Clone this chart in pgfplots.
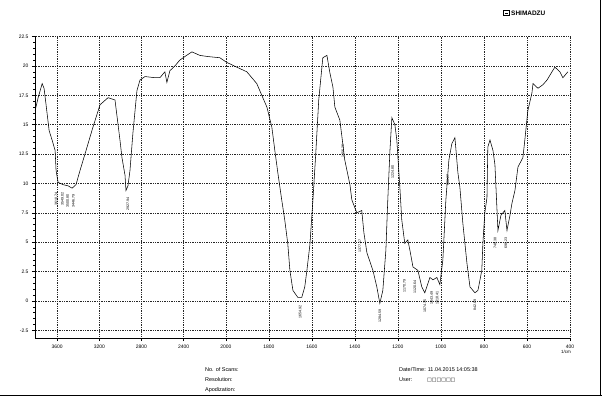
\documentclass[border=0pt]{standalone}
\usepackage{pgfplots}
\pgfplotsset{compat=1.18}
\usepackage{fontspec}
\setmainfont{Liberation Sans}
\newfontfamily\dejavu{DejaVu Sans}
\pgfplotstableread{
wn T
3809 16.2
3780 17.3
3742 18.5
3724 18.1
3705 16.7
3676 14.5
3648 13.7
3619 12.8
3610 11.1
3591 10.1
3544 9.9
3496 9.8
3458 9.6
3421 9.9
3383 11.1
3326 12.8
3260 14.8
3193 16.7
3117 17.3
3051 17.1
3004 13.7
2985 12.2
2956 10.7
2947 9.4
2928 9.8
2909 11.1
2881 14.3
2843 17.9
2814 18.8
2767 19.1
2672 19.0
2625 19.0
2578 19.5
2559 18.6
2530 19.6
2483 20.0
2436 20.5
2388 20.8
2322 21.2
2246 20.9
2170 20.8
2057 20.7
1995 20.3
1949 19.9
1902 19.5
1856 18.5
1809 16.5
1786 14.8
1772 12.8
1758 10.9
1740 8.6
1726 6.9
1712 4.9
1702 2.6
1688 0.9
1665 0.3
1647 0.3
1633 1.2
1623 2.6
1609 4.8
1595 8.6
1581 12.8
1568 17.1
1549 20.7
1530 20.9
1516 19.4
1502 18.2
1493 16.5
1470 15.4
1461 14.1
1447 12.0
1423 9.9
1414 8.6
1391 7.5
1368 7.7
1358 5.8
1344 4.1
1316 2.6
1298 1.2
1284 -0.2
1270 0.9
1256 4.3
1247 8.6
1237 12.8
1228 15.6
1214 15.0
1205 13.7
1191 9.7
1182 6.9
1168 4.9
1154 5.2
1144 4.3
1130 2.9
1107 2.6
1089 1.2
1075 0.7
1051 2.0
1037 1.8
1019 2.0
1005 1.4
991 3.5
977 8.6
963 12.0
949 13.4
935 13.9
921 10.9
912 9.7
898 6.6
879 3.2
865 1.2
842 0.7
828 0.9
810 2.6
805 4.9
796 7.5
786 8.8
782 13.1
772 13.7
758 12.8
749 11.6
740 8.0
735 6.0
721 7.3
703 7.7
693 6.0
679 7.3
670 8.3
656 9.4
642 11.4
619 12.2
610 13.7
596 16.2
577 17.7
572 18.5
549 18.1
526 18.4
507 18.8
484 19.5
470 19.9
447 19.5
433 19.0
410 19.5
}\spectrum
\begin{document}
\begin{tikzpicture}[x=1bp,y=1bp]
\path[use as bounding box] (0,0) rectangle (602,396);
\begin{axis}[
  at={(35bp,58bp)}, anchor=south west,
  width=535bp, height=302bp, scale only axis,
  x coord trafo/.code={\pgfmathparse{#1>2000 ? 2000+(#1-2000)*0.49 : #1}},
  x dir=reverse,
  xmin=400, xmax=3810, ymin=-3.15, ymax=22.55,
  axis x line*=bottom, axis y line*=left,
  axis line style={line width=0.6bp},
  xtick={3600,3200,2800,2400,2000,1800,1600,1400,1200,1000,800,600,400},
  xticklabels={3600,3200,2800,2400,2000,1800,1600,1400,1200,1000,800,600,400},
  ytick={-2.5,0,2.5,5,7.5,10,12.5,15,17.5,20,22.5},
  yticklabels={-2.5,0,2.5,5,7.5,10,12.5,15,17.5,20,22.5},
  minor y tick num=4,
  tick align=outside,
  major tick length=3bp, minor tick length=1.8bp,
  tick style={black, line width=0.5bp},
  tick label style={font=\fontsize{5}{6}\selectfont},
  /pgf/number format/assume math mode=true,
  grid=major,
  major grid style={black!85, line width=0.45bp, dash pattern=on 0.45bp off 1.3bp},
  clip=false,
]
\addplot[black, line width=0.55bp] table[x=wn, y=T] {\spectrum};
\tikzset{pk/.style={rotate=90, anchor=east, inner sep=0.5bp, font=\fontsize{3.6}{4}\selectfont}}
\node[pk] at (axis cs:3610,9.3) {3610.74};
\node[pk] at (axis cs:3549,9.3) {3549.02};
\node[pk] at (axis cs:3500,9.1) {3500.80};
\node[pk] at (axis cs:3446,9.1) {3446.79};
\node[pk] at (axis cs:2928,8.9) {2927.94};
\node[pk] at (axis cs:1654,-0.3) {1654.92};
\node[pk] at (axis cs:1456,13.4) {1456.26};
\node[pk] at (axis cs:1377,5.3) {1377.17};
\node[pk] at (axis cs:1284,-0.7) {1284.59};
\node[pk] at (axis cs:1224,11.6) {1224.80};
\node[pk] at (axis cs:1170,1.9) {1170.79};
\node[pk] at (axis cs:1121,1.8) {1120.64};
\node[pk] at (axis cs:1074,0.2) {1074.35};
\node[pk] at (axis cs:1043,0.9) {1043.49};
\node[pk] at (axis cs:1018,0.9) {1018.41};
\node[pk] at (axis cs:968,10.8) {968.27};
\node[pk] at (axis cs:842,0.2) {842.89};
\node[pk] at (axis cs:748,5.5) {748.38};
\node[pk] at (axis cs:698,5.5) {698.23};
\end{axis}
\node[anchor=north, font=\fontsize{4.5}{5}\selectfont, inner sep=0pt] at (566,46) {1/cm};
\node[anchor=west, font=\bfseries\fontsize{6.5}{7}\selectfont, inner sep=0pt] at (511,383) {SHIMADZU};
\draw[line width=0.6bp] (503.5,380.5) rectangle (509.5,386);
\draw[line width=0.5bp] (505,383.2) -- (508,383.2);
\draw[line width=0.7bp] (600.5,0) -- (600.5,396);
\draw[line width=0.7bp] (0,0.5) -- (602,0.5);
\begin{scope}[every node/.style={anchor=west, inner sep=0pt, font=\fontsize{5.5}{6}\selectfont}]
\node at (205,26) {No. of Scans:};
\node at (205,16) {Resolution:};
\node at (205,6) {Apodization:};
\node at (399,26) {Date/Time: 11.04.2015 14:05:38};
\node at (399,16) {User:};
\node at (427,16) {\dejavu\fontsize{5}{6}\selectfont □□□□□□};
\end{scope}
\end{tikzpicture}
\end{document}
